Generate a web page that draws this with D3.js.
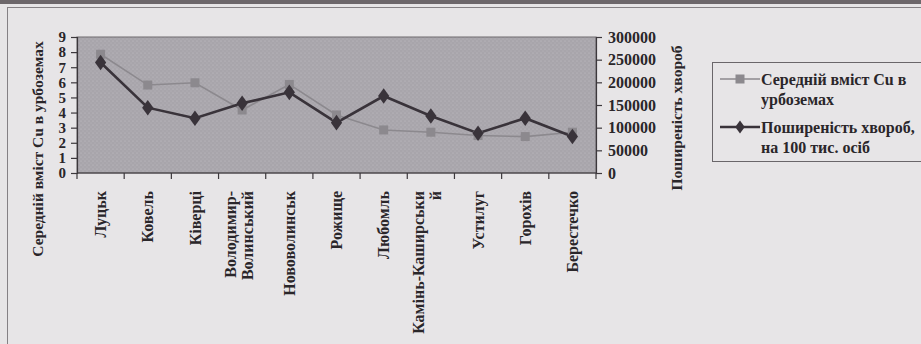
<!DOCTYPE html>
<html>
<head>
<meta charset="utf-8">
<script src="https://cdn.jsdelivr.net/npm/d3@7"></script>
<style>
  html, body { margin: 0; padding: 0; background: #e7e5e7; }
  svg { display: block; }
  text { font-family: "Liberation Serif", "Times New Roman", serif; fill: #2a262a; }
</style>
</head>
<body>
<svg id="chart" width="921" height="344"></svg>
<script>
// Міста Волинської області
const categories = [
  ["Луцьк"], ["Ковель"], ["Ківерці"], ["Володимир-", "Волинський"], ["Нововолинськ"],
  ["Рожище"], ["Любомль"], ["Камінь-Каширськи", "й"], ["Устилуг"], ["Горохів"], ["Берестечко"]
];
// Середній вміст Cu в урбоземах
const cuValues = [7.86, 5.82, 5.97, 4.17, 5.86, 3.84, 2.85, 2.70, 2.48, 2.41, 2.70];
// Поширеність хвороб, на 100 тис. осіб
const diseaseValues = [243800, 144100, 120800, 153700, 177900, 111100, 169800, 125800, 87800, 120800, 80400];
const leftTicks = [0, 1, 2, 3, 4, 5, 6, 7, 8, 9];
const rightTicks = [0, 50000, 100000, 150000, 200000, 250000, 300000];
const seriesNames = [["Середній вміст Cu в", "урбоземах"], ["Поширеність хвороб,", "на 100 тис. осіб"]];

const svg = d3.select("#chart");
const W = 921, H = 344;
const plot = { left: 77, right: 596, top: 37, bottom: 173 };

// paper frame
svg.append("rect").attr("x", 0).attr("y", 0).attr("width", W).attr("height", 4).attr("fill", "#6d676b");
svg.append("rect").attr("x", 7.5).attr("y", 7.5).attr("width", W).attr("height", H)
  .attr("fill", "none").attr("stroke", "#858185").attr("stroke-width", 1);

const keys = categories.map((c, i) => i);
const x = d3.scaleBand().domain(keys).range([plot.left, plot.right]).padding(0);
const yL = d3.scaleLinear().domain([0, 9]).range([plot.bottom, plot.top]);
const yR = d3.scaleLinear().domain([0, 300000]).range([plot.bottom, plot.top]);

// stippled plot area
const defs = svg.append("defs");
const pat = defs.append("pattern").attr("id", "stipple").attr("width", 4).attr("height", 4)
  .attr("patternUnits", "userSpaceOnUse");
pat.append("rect").attr("width", 4).attr("height", 4).attr("fill", "#a8a5ab");
pat.append("circle").attr("cx", 1).attr("cy", 1).attr("r", 0.6).attr("fill", "#c4c1c6");
pat.append("circle").attr("cx", 3).attr("cy", 3).attr("r", 0.5).attr("fill", "#bdbabf");

svg.append("rect")
  .attr("x", plot.left).attr("y", plot.top)
  .attr("width", plot.right - plot.left).attr("height", plot.bottom - plot.top)
  .attr("fill", "url(#stipple)").attr("stroke", "#6e6a6e").attr("stroke-width", 1);

// axes
const axisColor = "#3c383c";
const gL = svg.append("g").attr("transform", `translate(${plot.left},0)`)
  .call(d3.axisLeft(yL).tickValues(leftTicks).tickSize(6).tickPadding(5).tickFormat(d3.format("d")));
const gR = svg.append("g").attr("transform", `translate(${plot.right},0)`)
  .call(d3.axisRight(yR).tickValues(rightTicks).tickSize(6).tickPadding(6).tickFormat(d3.format("d")));
[gL, gR].forEach(g => {
  g.select(".domain").attr("stroke", axisColor).attr("stroke-width", 1.2);
  g.selectAll(".tick line").attr("stroke", axisColor).attr("stroke-width", 1.2);
  g.selectAll(".tick text").style("font-family", "Liberation Serif, serif")
    .attr("fill", "#2a262a");
});
gL.selectAll(".tick text").style("font-size", "15px").style("font-weight", "bold");
gR.selectAll(".tick text").style("font-size", "16px").style("font-weight", "bold");

// category axis: ticks between categories
const gB = svg.append("g");
gB.append("line").attr("x1", plot.left).attr("x2", plot.right)
  .attr("y1", plot.bottom).attr("y2", plot.bottom).attr("stroke", axisColor).attr("stroke-width", 1.2);
const bounds = keys.map(k => x(k)).concat([x(keys[keys.length - 1]) + x.bandwidth()]);
gB.selectAll("line.tk").data(bounds).join("line").attr("class", "tk")
  .attr("x1", d => d).attr("x2", d => d)
  .attr("y1", plot.bottom).attr("y2", plot.bottom + 6)
  .attr("stroke", axisColor).attr("stroke-width", 1.2);

const catLabels = gB.selectAll("text.cat").data(categories).join("text").attr("class", "cat")
  .attr("transform", (d, i) => `translate(${x(i) + x.bandwidth() / 2},191) rotate(-90)`)
  .attr("text-anchor", "end")
  .style("font-size", "16px").style("font-weight", "bold");
catLabels.each(function(lines) {
  const t = d3.select(this);
  const n = lines.length;
  lines.forEach((ln, j) => {
    const off = n === 1 ? 0 : (j === 0 ? -12 : 5);
    t.append("tspan").attr("x", 0).attr("y", off).attr("dy", "0.35em").text(ln);
  });
});

// axis titles
svg.append("text")
  .attr("transform", `translate(38,149) rotate(-90)`)
  .attr("text-anchor", "middle").attr("dy", "0.35em")
  .style("font-size", "15.5px").style("font-weight", "bold")
  .text("Середній вміст Cu в урбоземах");
svg.append("text")
  .attr("transform", `translate(677,118) rotate(-90)`)
  .attr("text-anchor", "middle").attr("dy", "0.35em")
  .style("font-size", "15.5px").style("font-weight", "bold")
  .text("Поширеність хвороб");

// series
const cuColor = "#8c898e", disColor = "#39333a";
const cuLine = d3.line().x((d, i) => x(i) + x.bandwidth() / 2).y(d => yL(d));
const disLine = d3.line().x((d, i) => x(i) + x.bandwidth() / 2).y(d => yR(d));

svg.append("path").datum(cuValues).attr("d", cuLine)
  .attr("fill", "none").attr("stroke", cuColor).attr("stroke-width", 1.6);
svg.append("path").datum(diseaseValues).attr("d", disLine)
  .attr("fill", "none").attr("stroke", disColor).attr("stroke-width", 2.6);

const sq = 9;
svg.selectAll("rect.cu").data(cuValues).join("rect").attr("class", "cu")
  .attr("x", (d, i) => x(i) + x.bandwidth() / 2 - sq / 2)
  .attr("y", d => yL(d) - sq / 2)
  .attr("width", sq).attr("height", sq).attr("fill", cuColor);

const diamond = d3.symbol().type(d3.symbolDiamond).size(70);
svg.selectAll("path.dis").data(diseaseValues).join("path").attr("class", "dis")
  .attr("d", diamond)
  .attr("transform", (d, i) => `translate(${x(i) + x.bandwidth() / 2},${yR(d)}) scale(1.25,1)`)
  .attr("fill", disColor);

// legend
const lg = svg.append("g");
lg.append("rect").attr("x", 712.5).attr("y", 62.5).attr("width", 220).attr("height", 99)
  .attr("fill", "none").attr("stroke", "#6a666a").attr("stroke-width", 1);
const rows = [
  { y: 79, color: cuColor, w: 1.6, mark: "sq" },
  { y: 127, color: disColor, w: 2.6, mark: "dia" }
];
rows.forEach((r, i) => {
  lg.append("line").attr("x1", 720).attr("x2", 760).attr("y1", r.y).attr("y2", r.y)
    .attr("stroke", r.color).attr("stroke-width", r.w);
  if (r.mark === "sq") {
    lg.append("rect").attr("x", 735.5).attr("y", r.y - 4.5).attr("width", 9).attr("height", 9).attr("fill", r.color);
  } else {
    lg.append("path").attr("d", d3.symbol().type(d3.symbolDiamond).size(50))
      .attr("transform", `translate(740,${r.y}) scale(1.25,1)`).attr("fill", r.color);
  }
  const t = lg.append("text").style("font-size", "16px").style("font-weight", "bold");
  seriesNames[i].forEach((ln, j) => {
    t.append("tspan").attr("x", 761).attr("y", r.y + j * 20).attr("dy", "0.35em").text(ln);
  });
});
</script>
</body>
</html>
